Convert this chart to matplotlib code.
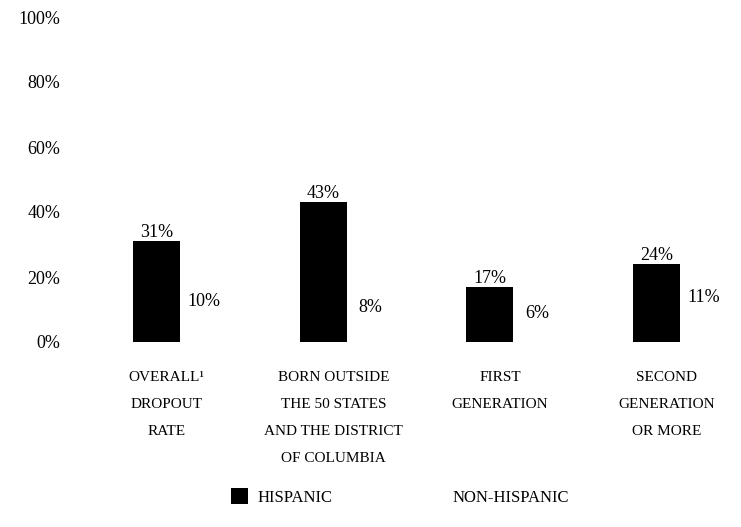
import numpy as np
import matplotlib
matplotlib.use('Agg')
import matplotlib.pyplot as plt

# data
categories = ['OVERALL\u00b9\nDROPOUT\nRATE',
              'BORN OUTSIDE\nTHE 50 STATES\nAND THE DISTRICT\nOF COLUMBIA',
              'FIRST\nGENERATION',
              'SECOND\nGENERATION\nOR MORE']
hispanic = [31, 43, 17, 24]
non_hispanic = [10, 8, 6, 11]
yticks = [0, 20, 40, 60, 80, 100]

plt.rcParams['font.family'] = ['Liberation Serif', 'DejaVu Serif']

fig = plt.figure(figsize=(7.41, 5.27), dpi=100)
ax = fig.add_axes([70/741, (527-342)/527, 671/741, 325/527])

x = np.arange(len(categories))
w = 0.282
b1 = ax.bar(x - w/2, hispanic, w, color='black', label='HISPANIC')
b2 = ax.bar(x + w/2, non_hispanic, w, color='white', label='NON-HISPANIC')

for xi, v in zip(x - w/2, hispanic):
    ax.text(xi, v, f'{v}%', ha='center', va='bottom', fontsize=13)
for xi, v in zip(x + w/2, non_hispanic):
    ax.text(xi, v, f'{v}%', ha='center', va='bottom', fontsize=13)

ax.set_xlim(-0.66, 3.365)
ax.set_ylim(0, 100)
ax.set_yticks(yticks)
ax.set_yticklabels([f'{t}%' for t in yticks], fontsize=13)
ax.set_xticks(x - 0.08)
ax.set_xticklabels(categories, fontsize=11, linespacing=2.4, va='top')
ax.tick_params(axis='both', length=0)
ax.tick_params(axis='x', pad=21)
ax.tick_params(axis='y', pad=7)
for s in ax.spines.values():
    s.set_visible(False)

fig.legend(handles=[b1, b2], loc='center', bbox_to_anchor=(0.54, 30/527),
           ncol=2, frameon=False, fontsize=12, handlelength=1.0,
           handleheight=1.1, columnspacing=5.6, handletextpad=0.6)

fig.savefig('out.png', dpi=100)
